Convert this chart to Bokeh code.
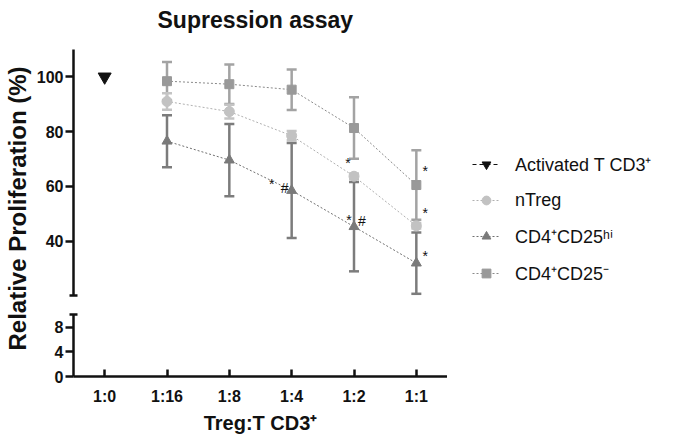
from bokeh.plotting import figure
from bokeh.layouts import row, column
from bokeh.models import (Range1d, FixedTicker, Whisker, TeeHead,
                          ColumnDataSource, Legend, LegendItem)
from bokeh.embed import file_html
from bokeh.resources import INLINE
from bokeh.core.properties import value

# ---------------- data ----------------
ratios = ["1:0", "1:16", "1:8", "1:4", "1:2", "1:1"]
activated_ratios = ["1:0"]
activated_values = [100.0]
treg_ratios = ["1:16", "1:8", "1:4", "1:2", "1:1"]
ntreg_mean = [91.0, 87.3, 78.5, 63.7, 45.6]
ntreg_err = [3.0, 2.5, 1.7, 1.0, 1.0]
cd25hi_mean = [76.5, 69.6, 58.5, 45.3, 32.0]
cd25hi_err = [9.5, 13.2, 17.3, 16.3, 11.2]
cd25neg_mean = [98.4, 97.3, 95.3, 81.3, 60.5]
cd25neg_err = [7.0, 7.2, 7.4, 11.2, 12.7]

upper_ticks = [40, 60, 80, 100]
lower_ticks = [0, 4, 8]

sig_ratios = ["1:4", "1:4", "1:2", "1:2", "1:2", "1:1", "1:1", "1:1"]
sig_values = [61.6, 60.1, 69.2, 48.6, 48.0, 66.4, 51.0, 35.3]
sig_texts = ["*", "#", "*", "*", "#", "*", "*", "*"]
sig_dx = [-20, -7, -6, -5, 8, 9, 9, 9]

FONT = "Liberation Sans"
INK = "#111111"

xi = {r: i for i, r in enumerate(ratios)}
PX_PER_CAT = 374 / 6.0
TOP_FRAME_W = 586
x_range_bot = Range1d(-0.5, 5.5)
x_range_top = Range1d(-0.5, -0.5 + TOP_FRAME_W / PX_PER_CAT)


def style_axis(ax):
    ax.axis_line_width = 2.5
    ax.axis_line_color = INK
    ax.major_tick_line_width = 2.5
    ax.major_tick_line_color = INK
    ax.minor_tick_line_width = 2.5
    ax.minor_tick_line_color = INK
    ax.major_label_text_font = FONT
    ax.major_label_text_font_size = "16px"
    ax.major_label_text_font_style = "bold"
    ax.major_label_text_color = INK
    ax.axis_label_text_font = FONT
    ax.axis_label_text_font_style = "bold"
    ax.axis_label_text_color = INK


# ---------------- upper segment ----------------
top = figure(frame_width=TOP_FRAME_W, frame_height=262, output_backend="svg",
             toolbar_location=None, x_range=x_range_top, y_range=Range1d(18.72, 114.34),
             x_axis_location=None, min_border_left=40, min_border_right=0,
             min_border_top=0, min_border_bottom=0)
top.outline_line_color = None
top.grid.visible = False

top.title.text = "Supression assay"
top.title.align = "left"
top.title.offset = 84
top.title.text_font = FONT
top.title.text_font_size = "23px"
top.title.text_font_style = "bold"
top.title.text_color = INK
top.title.standoff = 9


def src(means, errs):
    return ColumnDataSource(dict(
        x=[xi[r] for r in treg_ratios], y=means,
        upper=[m + e for m, e in zip(means, errs)],
        lower=[m - e for m, e in zip(means, errs)]))


s_neg = src(cd25neg_mean, cd25neg_err)
s_ntreg = src(ntreg_mean, ntreg_err)
s_hi = src(cd25hi_mean, cd25hi_err)


def whisk(s, color):
    w = Whisker(source=s, base="x", upper="upper", lower="lower",
                line_color=color, line_width=2.5,
                upper_head=TeeHead(size=10, line_color=color, line_width=2.5),
                lower_head=TeeHead(size=10, line_color=color, line_width=2.5))
    top.add_layout(w)


whisk(s_neg, "#a3a3a3")
whisk(s_ntreg, "#c4c4c4")
whisk(s_hi, "#7c7c7c")

l_neg = top.line("x", "y", source=s_neg, line_color="#8a8a8a", line_width=1, line_dash="2 2")
l_ntreg = top.line("x", "y", source=s_ntreg, line_color="#b0b0b0", line_width=1, line_dash="2 2")
l_hi = top.line("x", "y", source=s_hi, line_color="#707070", line_width=1, line_dash="2 2")

m_neg = top.scatter("x", "y", source=s_neg, marker="square", size=9,
                    fill_color="#999999", line_color="#999999")
m_ntreg = top.scatter("x", "y", source=s_ntreg, marker="circle", size=10,
                      fill_color="#c2c2c2", line_color="#c2c2c2")
m_hi = top.scatter("x", "y", source=s_hi, marker="triangle", size=10,
                   fill_color="#7a7a7a", line_color="#7a7a7a")

act_src = ColumnDataSource(dict(x=[xi[r] for r in activated_ratios], y=activated_values))
l_act = top.line("x", "y", source=act_src, line_color=INK, line_width=1.2, line_dash="4 3")
m_act = top.scatter("x", "y", source=act_src, marker="inverted_triangle", size=13,
                    fill_color=INK, line_color=INK)

sig_src = ColumnDataSource(dict(x=[xi[r] for r in sig_ratios], y=sig_values,
                                text=sig_texts, dx=sig_dx))
top.text("x", "y", text="text", source=sig_src, x_offset="dx", y_offset=2,
         text_font=value(FONT), text_font_size="14px", text_color=INK,
         text_align="center", text_baseline="middle")

yax = top.yaxis[0]
yax.ticker = FixedTicker(ticks=upper_ticks, minor_ticks=[20])
yax.bounds = (20, 110)
style_axis(yax)
yax.major_tick_out = 8
yax.major_tick_in = 0
yax.minor_tick_in = 4
yax.minor_tick_out = 4
yax.major_label_standoff = 2

legend = Legend(items=[
    LegendItem(label="Activated T CD3\u207a", renderers=[l_act, m_act]),
    LegendItem(label="nTreg", renderers=[l_ntreg, m_ntreg]),
    LegendItem(label="CD4\u207aCD25\u02b0\u2071", renderers=[l_hi, m_hi]),
    LegendItem(label="CD4\u207aCD25\u207b", renderers=[l_neg, m_neg]),
], location=(399, 14))
legend.border_line_color = None
legend.background_fill_alpha = 0
legend.padding = 0
legend.margin = 0
legend.spacing = 13
legend.glyph_width = 28
legend.glyph_height = 22
legend.label_height = 22
legend.label_standoff = 15
legend.label_text_font = FONT
legend.label_text_font_size = "18px"
legend.label_text_color = INK
top.add_layout(legend)

# ---------------- lower segment ----------------
bot = figure(frame_width=374, frame_height=77, output_backend="svg", toolbar_location=None,
             x_range=x_range_bot, y_range=Range1d(0, 12.52),
             min_border_left=40, min_border_right=0, min_border_top=0,
             min_border_bottom=0)
bot.outline_line_color = None
bot.grid.visible = False

lax = bot.yaxis[0]
lax.ticker = FixedTicker(ticks=lower_ticks, minor_ticks=[10])
lax.bounds = (0, 10)
style_axis(lax)
lax.major_tick_out = 8
lax.major_tick_in = 0
lax.minor_tick_in = 4
lax.minor_tick_out = 4
lax.major_label_standoff = 2

xax = bot.xaxis[0]
xax.ticker = FixedTicker(ticks=list(range(len(ratios))), minor_ticks=[])
xax.major_label_overrides = {i: r for i, r in enumerate(ratios)}
xax.bounds = (-0.5, 5.5)
style_axis(xax)
xax.major_tick_in = 7
xax.major_tick_out = 0
xax.major_label_standoff = 11
xax.axis_label = "Treg:T CD3\u207a"
xax.axis_label_text_font_size = "20px"
xax.axis_label_standoff = 4

# ---------------- y label column ----------------
lab = figure(width=33, height=424, output_backend="svg", toolbar_location=None,
             x_axis_location=None, min_border_left=0, min_border_right=0,
             min_border_top=0, min_border_bottom=8)
lab.outline_line_color = None
lab.grid.visible = False
lax2 = lab.yaxis[0]
lax2.ticker = FixedTicker(ticks=[])
lax2.axis_line_color = None
lax2.major_tick_line_color = None
lax2.minor_tick_line_color = None
lax2.major_label_text_font_size = "0px"
lax2.axis_label = "Relative Proliferation (%)"
lax2.axis_label_text_font = FONT
lax2.axis_label_text_font_size = "24px"
lax2.axis_label_text_font_style = "bold"
lax2.axis_label_text_color = INK
lax2.axis_label_standoff = 0
lab.scatter(x=[0], y=[0], size=0, alpha=0)

layout = row(lab, column(top, bot, spacing=0), spacing=0)
open("out.html", "w").write(file_html(layout, INLINE))
